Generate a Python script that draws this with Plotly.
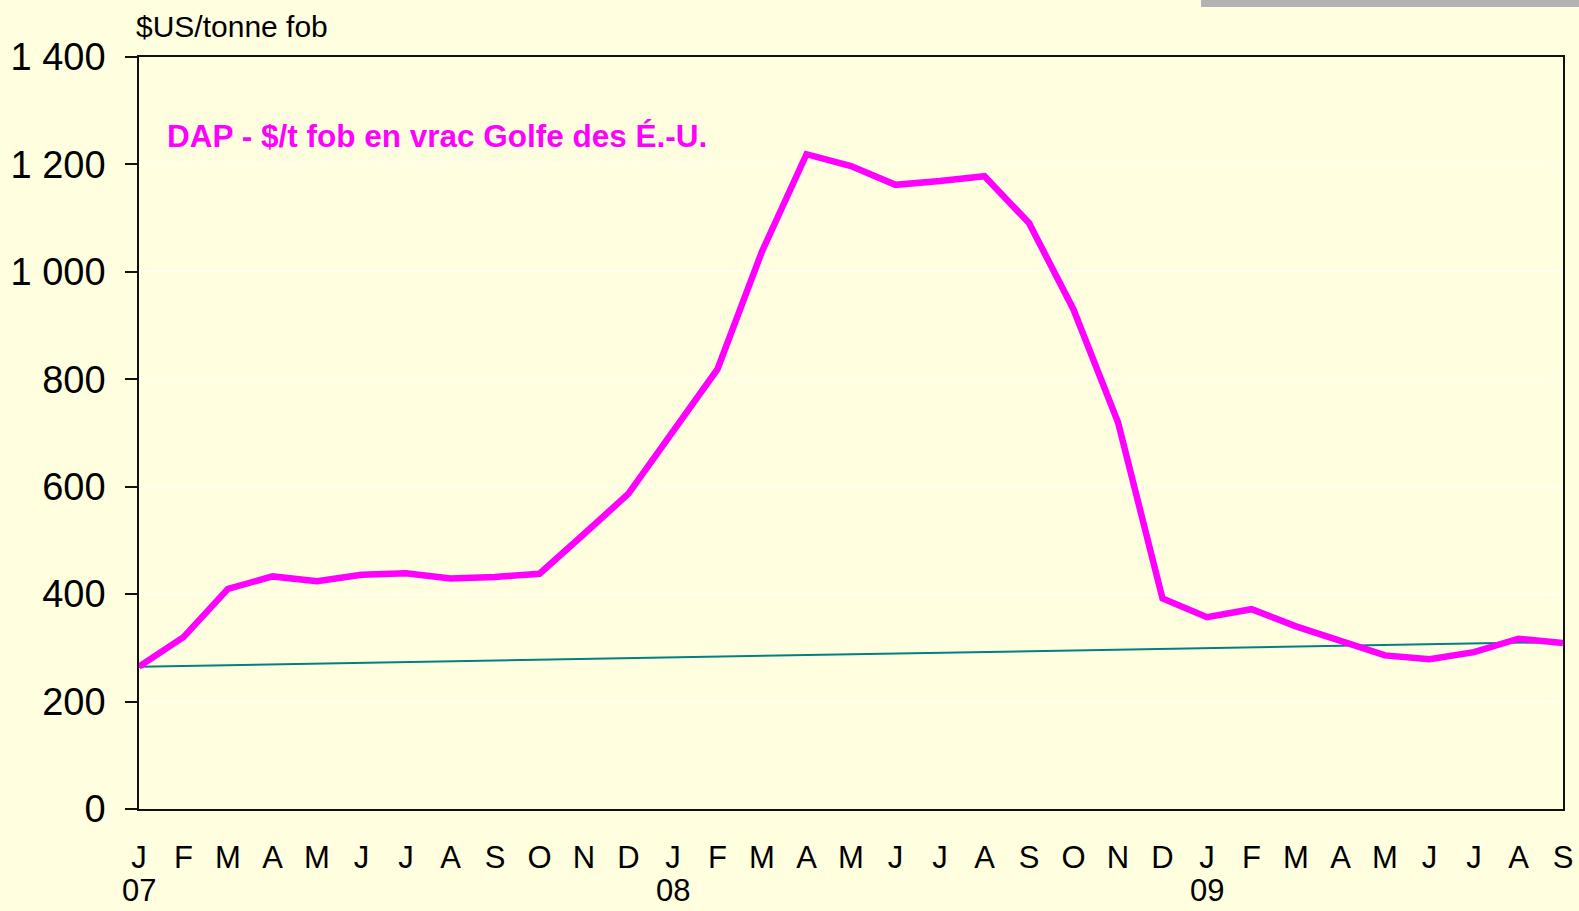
import plotly.graph_objects as go

months = ["J", "F", "M", "A", "M", "J", "J", "A", "S", "O", "N", "D",
          "J", "F", "M", "A", "M", "J", "J", "A", "S", "O", "N", "D",
          "J", "F", "M", "A", "M", "J", "J", "A", "S"]
year_pos = [0, 12, 24]
year_labels = ["07", "08", "09"]
dap = [265, 320, 410, 433, 424, 436, 439, 429, 432, 438, 512, 587,
       703, 819, 1038, 1219, 1197, 1162, 1169, 1178, 1091, 930, 720, 392,
       357, 372, 340, 312, 286, 279, 292, 317, 309]
trend_x = [0, 32]
trend_y = [265, 311]
y_ticks = [0, 200, 400, 600, 800, 1000, 1200, 1400]
y_labels = ["0", "200", "400", "600", "800", "1 000", "1 200", "1 400"]

x_idx = list(range(len(months)))

L, R, T, B = 139, 16, 57, 102
W, H = 1579, 911
pw, ph = W - L - R, H - T - B

def px(x):
    return (x - L) / pw

def py(y):
    return (H - B - y) / ph

fig = go.Figure()
fig.add_trace(go.Scatter(x=trend_x, y=trend_y, mode="lines",
                         line=dict(color="#008080", width=2), showlegend=False))
fig.add_trace(go.Scatter(x=x_idx, y=dap, mode="lines",
                         line=dict(color="#FF00FF", width=6.5), showlegend=False))

annotations = [
    dict(text="$US/tonne fob", xref="paper", yref="paper", x=px(134), y=py(27),
         xanchor="left", yanchor="middle", showarrow=False,
         font=dict(size=30, color="black")),
    dict(text="<b>DAP - $/t fob en vrac Golfe des É.-U.</b>", xref="paper", yref="paper",
         x=px(165), y=py(136), xanchor="left", yanchor="middle", showarrow=False,
         font=dict(size=31.5, color="#FF00FF")),
]
for xp, lab in zip(year_pos, year_labels):
    annotations.append(dict(text=lab, xref="x", yref="paper", x=xp, y=py(910),
                            xanchor="center", yanchor="bottom", showarrow=False,
                            font=dict(size=31, color="black")))

fig.update_layout(
    width=W, height=H,
    margin=dict(l=L, r=R, t=T, b=B, autoexpand=False),
    paper_bgcolor="#FFFFE0", plot_bgcolor="#FFFFE0",
    font=dict(family="Liberation Sans, Arial, sans-serif", color="black"),
    xaxis=dict(range=[0, 32], tickvals=x_idx, ticktext=months, ticks="",
               tickfont=dict(size=31), showgrid=False, zeroline=False,
               showline=True, linecolor="#111", linewidth=1.5, mirror=True,
               ticklabelstandoff=20, automargin=False),
    yaxis=dict(range=[0, 1400], tickvals=y_ticks, ticktext=y_labels,
               ticks="outside", ticklen=12, tickcolor="#111", tickwidth=1.5,
               tickfont=dict(size=38), showgrid=True,
               gridcolor="rgba(255,255,255,0.9)", gridwidth=1, zeroline=False,
               showline=True, linecolor="#111", linewidth=1.5, mirror=True,
               ticklabelstandoff=12, automargin=False),
    annotations=annotations,
    shapes=[
        dict(type="rect", xref="paper", yref="paper", x0=px(1201), x1=px(1585),
             y0=py(7), y1=py(-5), fillcolor="#B3B3B3", line=dict(width=0), layer="above"),
    ],
)

fig.write_html("out.html", config={"displayModeBar": False},
               post_script="document.body.style.margin='0';document.body.style.background='#FFFFE0';")
